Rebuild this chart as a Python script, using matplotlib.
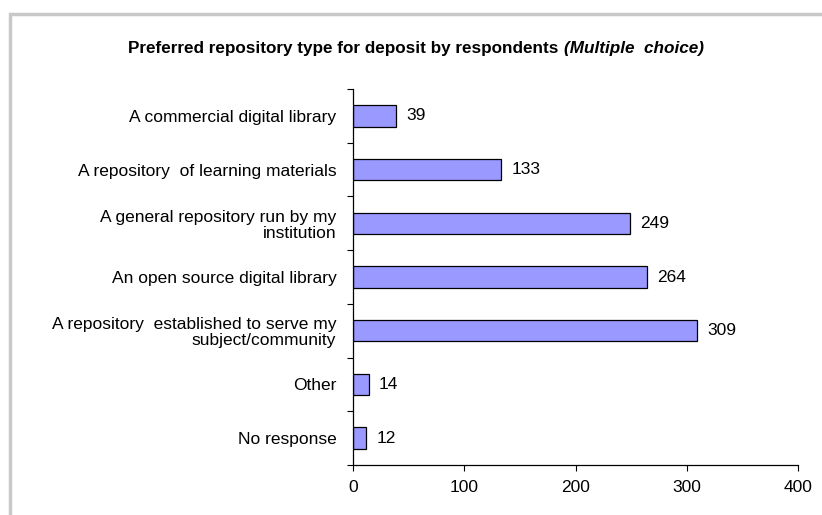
import matplotlib
matplotlib.use("Agg")
import matplotlib.pyplot as plt
from matplotlib.patches import Rectangle
import numpy as np

plt.rcParams['font.family'] = ['Liberation Sans', 'DejaVu Sans']

categories = [
    "A commercial digital library",
    "A repository  of learning materials",
    "A general repository run by my\ninstitution",
    "An open source digital library",
    "A repository  established to serve my\nsubject/community",
    "Other",
    "No response",
]
values = [39, 133, 249, 264, 309, 14, 12]
x_ticks = [0, 100, 200, 300, 400]

FS = 12.5

fig = plt.figure(figsize=(8.22, 5.15), dpi=100)
fig.patch.set_facecolor("white")

# light grey frame around the chart area
fig.patches.append(Rectangle((9.5 / 822, -0.05), 1.2, 1 - 13.5 / 515 + 0.05,
                             transform=fig.transFigure, fill=False,
                             edgecolor="#c8c8c8", linewidth=2.5, zorder=0))

ax = fig.add_axes([353 / 822, 1 - 465 / 515, (798 - 353) / 822, (465 - 89) / 515])

n = len(categories)
pos = np.arange(n)
ax.barh(pos, values, height=0.4, color="#9999ff", edgecolor="black", linewidth=0.9)
ax.set_ylim(n - 0.5, -0.5)
ax.set_xlim(0, 400)

for p, v in zip(pos, values):
    ax.annotate(str(v), (v, p), xytext=(7.5, 0), textcoords="offset points",
                va="center", ha="left", fontsize=FS)

ax.set_yticks(pos)
ax.set_yticklabels(categories, fontsize=FS, ha="right", linespacing=1.1)
ax.tick_params(axis="y", which="major", length=0, pad=12)
ax.set_yticks(np.arange(-0.5, n, 1.0), minor=True)
ax.tick_params(axis="y", which="minor", direction="out", length=4, width=0.8)

ax.set_xticks(x_ticks)
ax.set_xticklabels([str(t) for t in x_ticks], fontsize=FS)
ax.tick_params(axis="x", direction="out", length=4, width=0.8, pad=7)

for s in ["top", "right"]:
    ax.spines[s].set_visible(False)
for s in ["left", "bottom"]:
    ax.spines[s].set_linewidth(0.9)

# title made of a bold part and a bold-italic part, centred together
renderer = fig.canvas.get_renderer()
title_y = 1 - 48 / 515
part1 = fig.text(0, title_y, "Preferred repository type for deposit by respondents ",
                 ha="left", va="center", fontsize=12.3, fontweight="bold")
part2 = fig.text(0, title_y, "(Multiple  choice)",
                 ha="left", va="center", fontsize=12.3, fontweight="bold", style="italic")
w1 = part1.get_window_extent(renderer).width
w2 = part2.get_window_extent(renderer).width
start = 416 - (w1 + w2) / 2
part1.set_x(start / 822)
part2.set_x((start + w1) / 822)

fig.savefig("out.png", dpi=100)
